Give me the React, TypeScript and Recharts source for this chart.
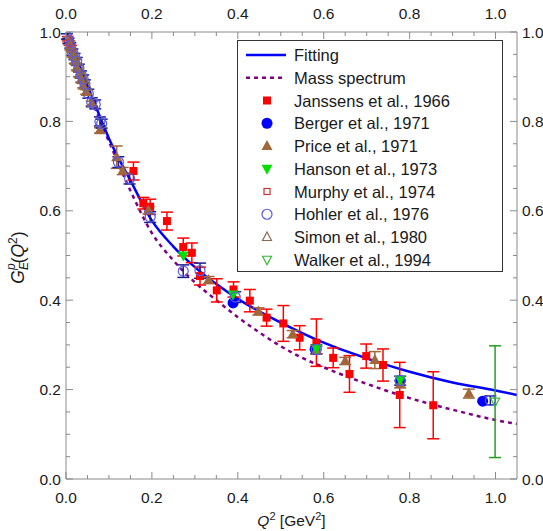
import React from "react";
import {
  ComposedChart,
  Line,
  Scatter,
  ErrorBar,
  XAxis,
  YAxis,
  Legend,
} from "recharts";

// curves
const fitQ2 = [0, 0.02, 0.05, 0.08, 0.1, 0.15, 0.2, 0.25, 0.3, 0.35, 0.4, 0.45, 0.5, 0.6, 0.7, 0.8, 0.9, 1.0, 1.05];
const fitGE = [1.0, 0.952, 0.88, 0.808, 0.762, 0.668, 0.578, 0.52, 0.474, 0.436, 0.403, 0.375, 0.35, 0.305, 0.27, 0.24, 0.216, 0.198, 0.188];
const massQ2 = [0, 0.02, 0.05, 0.08, 0.1, 0.15, 0.2, 0.25, 0.3, 0.35, 0.4, 0.45, 0.5, 0.55, 0.6, 0.7, 0.8, 0.9, 1.0, 1.05];
const massGE = [1.0, 0.948, 0.872, 0.8, 0.755, 0.645, 0.55, 0.489, 0.44, 0.4, 0.362, 0.328, 0.297, 0.271, 0.25, 0.213, 0.181, 0.155, 0.132, 0.123];

// data sets: [Q2, GE, err]
const janssens = [
  [0.157, 0.689, 0.02], [0.18, 0.617, 0.013], [0.196, 0.609, 0.017], [0.235, 0.577, 0.02],
  [0.273, 0.519, 0.02], [0.293, 0.506, 0.022], [0.312, 0.454, 0.02], [0.351, 0.422, 0.026],
  [0.39, 0.424, 0.017], [0.428, 0.399, 0.025], [0.467, 0.361, 0.019], [0.506, 0.348, 0.04],
  [0.544, 0.316, 0.027], [0.583, 0.305, 0.053], [0.622, 0.271, 0.022], [0.66, 0.235, 0.041],
  [0.699, 0.275, 0.027], [0.738, 0.255, 0.036], [0.777, 0.188, 0.073], [0.855, 0.165, 0.075],
];
const berger = [[0.389, 0.394, 0], [0.58, 0.29, 0], [0.778, 0.22, 0], [0.97, 0.174, 0]];
const price = [
  [0.005, 0.98, 0.005], [0.01, 0.965, 0.005], [0.015, 0.95, 0.005], [0.02, 0.935, 0.005],
  [0.025, 0.92, 0.005], [0.03, 0.905, 0.005], [0.035, 0.893, 0.005], [0.04, 0.88, 0.005],
  [0.047, 0.866, 0.005], [0.06, 0.84, 0.005], [0.079, 0.78, 0.006], [0.118, 0.72, 0.025],
  [0.132, 0.689, 0.008], [0.192, 0.601, 0.008], [0.332, 0.445, 0.008], [0.448, 0.375, 0.008],
  [0.528, 0.324, 0.008], [0.583, 0.288, 0.008], [0.65, 0.264, 0.008], [0.719, 0.266, 0.019],
  [0.778, 0.212, 0.008], [0.938, 0.191, 0.01],
];
const hanson = [[0.273, 0.5, 0], [0.389, 0.413, 0], [0.583, 0.292, 0], [0.778, 0.222, 0]];
const murphy = [[0.004, 0.985, 0.005], [0.008, 0.975, 0.005], [0.012, 0.965, 0.005]];
const hohler = [
  [0.002, 0.99, 0.006], [0.006, 0.98, 0.006], [0.01, 0.97, 0.006], [0.015, 0.955, 0.007],
  [0.02, 0.945, 0.007], [0.025, 0.935, 0.008], [0.03, 0.92, 0.008], [0.035, 0.905, 0.008],
  [0.04, 0.895, 0.009], [0.044, 0.884, 0.009], [0.052, 0.862, 0.01], [0.06, 0.843, 0.01],
  [0.068, 0.838, 0.01], [0.079, 0.8, 0.01], [0.083, 0.795, 0.01], [0.122, 0.709, 0.012],
  [0.148, 0.672, 0.012], [0.196, 0.586, 0.012], [0.273, 0.465, 0.014], [0.312, 0.466, 0.017],
  [0.394, 0.407, 0.012], [0.583, 0.29, 0.01], [0.778, 0.22, 0.01], [0.988, 0.176, 0.01],
];
const simon = [[0.01, 0.97, 0], [0.02, 0.947, 0], [0.03, 0.925, 0], [0.04, 0.9, 0], [0.05, 0.878, 0]];
const walker = [[0.999, 0.173, 0.125]];

// axes
const xTicks = [0, 0.05, 0.1, 0.15, 0.2, 0.25, 0.3, 0.35, 0.4, 0.45, 0.5, 0.55, 0.6, 0.65, 0.7, 0.75, 0.8, 0.85, 0.9, 0.95, 1.0];
const yTicks = xTicks;
const majorTicks = [0, 0.2, 0.4, 0.6, 0.8, 1.0];

const FONT = "'Liberation Sans', Arial, sans-serif";
const TXT = "#1a1a1a";
const AXIS = "#8a8a8a";

const curve = (xs: number[], ys: number[]) => xs.map((x, i) => ({ x, y: ys[i] }));
const pts = (arr: number[][]) => arr.map(([x, y, e]) => ({ x, y, e }));

const isMajor = (v: number) => majorTicks.some((m) => Math.abs(m - v) < 1e-6);

function tickFor(side: "bottom" | "top" | "left" | "right") {
  return (props: any) => {
    const { x, y, payload } = props;
    const v = payload.value;
    const major = isMajor(v);
    const len = major ? 7 : 4;
    const label = major ? v.toFixed(1) : "";
    let line;
    let text;
    if (side === "bottom") {
      line = <line x1={x} y1={y} x2={x} y2={y - len} stroke={AXIS} />;
      text = <text x={x} y={y + 24} textAnchor="middle">{label}</text>;
    } else if (side === "top") {
      line = <line x1={x} y1={y} x2={x} y2={y + len} stroke={AXIS} />;
      text = <text x={x} y={y - 13} textAnchor="middle">{label}</text>;
    } else if (side === "left") {
      line = <line x1={x} y1={y} x2={x + len} y2={y} stroke={AXIS} />;
      text = <text x={x - 5} y={y + 5.5} textAnchor="end">{label}</text>;
    } else {
      line = <line x1={x} y1={y} x2={x - len} y2={y} stroke={AXIS} />;
      text = <text x={x + 5} y={y + 5.5} textAnchor="start">{label}</text>;
    }
    return (
      <g fontFamily={FONT} fontSize={15.5} fill={TXT}>
        {line}
        {major ? text : null}
      </g>
    );
  };
}

// markers
const sq = (c: string) => (p: any) => <rect x={p.cx - 4} y={p.cy - 4} width={8} height={8} fill={c} />;
const dot = (c: string) => (p: any) => <circle cx={p.cx} cy={p.cy} r={5.5} fill={c} />;
const triUp = (c: string) => (p: any) => (
  <polygon points={`${p.cx},${p.cy - 6} ${p.cx - 5.5},${p.cy + 4} ${p.cx + 5.5},${p.cy + 4}`} fill={c} />
);
const triDown = (c: string) => (p: any) => (
  <polygon points={`${p.cx - 5.5},${p.cy - 4} ${p.cx + 5.5},${p.cy - 4} ${p.cx},${p.cy + 6}`} fill={c} />
);
const openSq = (c: string) => (p: any) => (
  <rect x={p.cx - 3} y={p.cy - 3} width={6} height={6} fill="white" fillOpacity={0} stroke={c} strokeWidth={1.2} />
);
const openDot = (c: string) => (p: any) => <circle cx={p.cx} cy={p.cy} r={5} fill="none" stroke={c} strokeWidth={1.2} />;
const openTriUp = (c: string) => (p: any) => (
  <polygon points={`${p.cx},${p.cy - 5} ${p.cx - 4.5},${p.cy + 3.5} ${p.cx + 4.5},${p.cy + 3.5}`} fill="none" stroke={c} strokeWidth={1.2} />
);
const openTriDown = (c: string) => (p: any) => (
  <polygon points={`${p.cx - 4.5},${p.cy - 3.5} ${p.cx + 4.5},${p.cy - 3.5} ${p.cx},${p.cy + 5}`} fill="none" stroke={c} strokeWidth={1.2} />
);

const series = [
  { name: "Janssens et al., 1966", data: janssens, shape: sq("#ff0000"), err: "#ff0000" },
  { name: "Berger et al., 1971", data: berger, shape: dot("#0000ff"), err: null },
  { name: "Price et al., 1971", data: price, shape: triUp("#a0673a"), err: "#a0673a" },
  { name: "Hanson et al., 1973", data: hanson, shape: triDown("#00e000"), err: null },
  { name: "Murphy et al., 1974", data: murphy, shape: openSq("#cc3030"), err: "#cc3030" },
  { name: "Hohler et al., 1976", data: hohler, shape: openDot("#5a5ae0"), err: "#1c1c8c" },
  { name: "Simon et al., 1980", data: simon, shape: openTriUp("#8a6a52"), err: null },
  { name: "Walker et al., 1994", data: walker, shape: openTriDown("#33b833"), err: "#22a022" },
];

function LegendBox() {
  const rowY = (i: number) => 14 + i * 22.75;
  return (
    <div style={{ border: "1px solid #333", background: "white", width: 264, height: 230 }}>
      <svg width={264} height={230} fontFamily={FONT} fontSize={16.5} fill={TXT}>
        <line x1={8} x2={48} y1={rowY(0)} y2={rowY(0)} stroke="#0000ff" strokeWidth={2.5} />
        <text x={56} y={rowY(0) + 6}>Fitting</text>
        <line x1={8} x2={48} y1={rowY(1)} y2={rowY(1)} stroke="#800080" strokeWidth={2.5} strokeDasharray="4 4" />
        <text x={56} y={rowY(1) + 6}>Mass spectrum</text>
        {series.map((s, i) => (
          <g key={s.name}>
            {(s.shape as any)({ cx: 29, cy: rowY(i + 2) })}
            <text x={56} y={rowY(i + 2) + 6}>{s.name}</text>
          </g>
        ))}
      </svg>
    </div>
  );
}

function XTitle(props: any) {
  const vb = props.viewBox || { x: 66, y: 479, width: 451, height: 52 };
  return (
    <text x={vb.x + vb.width / 2} y={vb.y + 47} textAnchor="middle" fontFamily={FONT} fontSize={15.5} fill={TXT}>
      <tspan fontStyle="italic">Q</tspan>
      <tspan fontSize={11} dy={-6}>2</tspan>
      <tspan dy={6}> [GeV</tspan>
      <tspan fontSize={11} dy={-6}>2</tspan>
      <tspan dy={6}>]</tspan>
    </text>
  );
}

function YTitle(props: any) {
  const vb = props.viewBox || { x: 10, y: 32, width: 56, height: 447 };
  const cx = vb.x + 14;
  const cy = vb.y + vb.height / 2 + 2;
  return (
    <text transform={`translate(${cx},${cy}) rotate(-90)`} textAnchor="middle" fontFamily={FONT} fontSize={17.5} fill={TXT}>
      <tspan fontStyle="italic">G</tspan>
      <tspan fontStyle="italic" fontSize={12} dy={4}>E</tspan>
      <tspan fontStyle="italic" fontSize={12} dx={-8} dy={-13}>p</tspan>
      <tspan dy={9}>(</tspan>
      <tspan fontStyle="italic">Q</tspan>
      <tspan fontSize={12} dy={-7}>2</tspan>
      <tspan dy={7}>)</tspan>
    </text>
  );
}

export default function App() {
  return (
    <div style={{ position: "absolute", left: 0, top: 0, background: "white" }}>
      <ComposedChart width={543} height={531} margin={{ top: 8, right: 0, bottom: 0, left: 10 }}>
        <XAxis
          xAxisId={0}
          dataKey="x"
          type="number"
          domain={[0, 1.05]}
          allowDataOverflow
          ticks={xTicks}
          interval={0}
          tick={tickFor("bottom")}
          tickLine={false}
          tickSize={0}
          tickMargin={0}
          axisLine={{ stroke: AXIS }}
          height={52}
          label={<XTitle />}
        />
        <XAxis
          xAxisId="top"
          orientation="top"
          dataKey="x"
          type="number"
          domain={[0, 1.05]}
          allowDataOverflow
          ticks={xTicks}
          interval={0}
          tick={tickFor("top")}
          tickLine={false}
          tickSize={0}
          tickMargin={0}
          axisLine={{ stroke: AXIS }}
          height={24}
        />
        <YAxis
          yAxisId={0}
          dataKey="y"
          type="number"
          domain={[0, 1]}
          allowDataOverflow
          ticks={yTicks}
          interval={0}
          tick={tickFor("left")}
          tickLine={false}
          tickSize={0}
          tickMargin={0}
          axisLine={{ stroke: AXIS }}
          width={56}
          label={<YTitle />}
        />
        <YAxis
          yAxisId="right"
          orientation="right"
          dataKey="y"
          type="number"
          domain={[0, 1]}
          allowDataOverflow
          ticks={yTicks}
          interval={0}
          tick={tickFor("right")}
          tickLine={false}
          tickSize={0}
          tickMargin={0}
          axisLine={{ stroke: AXIS }}
          width={26}
        />
        <Line
          data={curve(massQ2, massGE)}
          dataKey="y"
          type="monotone"
          dot={false}
          stroke="#800080"
          strokeWidth={2.5}
          strokeDasharray="4 4"
          isAnimationActive={false}
          legendType="none"
        />
        <Line
          data={curve(fitQ2, fitGE)}
          dataKey="y"
          type="monotone"
          dot={false}
          stroke="#0000ff"
          strokeWidth={2.5}
          isAnimationActive={false}
          legendType="none"
        />
        {series.map((s) => (
          <Scatter key={s.name} name={s.name} data={pts(s.data)} shape={s.shape} isAnimationActive={false}>
            {s.err ? (
              <ErrorBar dataKey="e" direction="y" width={6} stroke={s.err} strokeWidth={1.5} />
            ) : null}
          </Scatter>
        ))}
        <Legend
          layout="horizontal"
          align="center"
          verticalAlign="middle"
          wrapperStyle={{ left: 237, top: 40, width: 266, height: 232 }}
          content={() => <LegendBox />}
        />
      </ComposedChart>
    </div>
  );
}
